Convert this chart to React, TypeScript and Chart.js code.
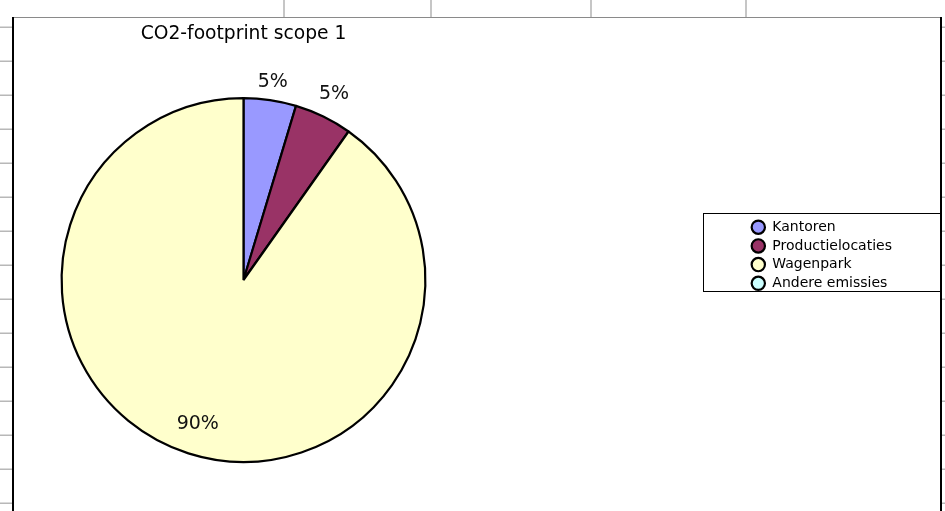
import React, { useEffect, useRef } from "react";
import { Chart, registerables } from "chart.js";

Chart.register(...registerables);

// ---- data ----
const categories = ["Kantoren", "Productielocaties", "Wagenpark", "Andere emissies"];
const emissions = [4.66, 5.14, 90.2, 0];
const sliceColors = ["#9999FF", "#993366", "#FFFFCC", "#CCFFFF"];
const chartTitle = "CO2-footprint scope 1";

// ---- decoration (spreadsheet grid around the embedded chart) ----
const sheetRowLines = [27.3, 61.3, 95.3, 129.3, 163.3, 197.3, 231.3, 265.3, 299.3, 333.3, 367.3, 401.3, 435.3, 469.3, 503.3];
const sheetColLines = [284, 431, 591, 746];

const W = 945;
const H = 511;
const FONT = "'DejaVu Sans', Verdana, sans-serif";

const sheetPlugin = {
  id: "sheetBackground",
  beforeDraw(chart: any) {
    const ctx = chart.ctx as CanvasRenderingContext2D;
    ctx.save();
    ctx.fillStyle = "#ffffff";
    ctx.fillRect(0, 0, W, H);
    ctx.strokeStyle = "#b8b8b8";
    ctx.lineWidth = 1.6;
    for (const y of sheetRowLines) {
      ctx.beginPath();
      ctx.moveTo(0, y);
      ctx.lineTo(12, y);
      ctx.moveTo(942, y);
      ctx.lineTo(W, y);
      ctx.stroke();
    }
    for (const x of sheetColLines) {
      ctx.beginPath();
      ctx.moveTo(x, 0);
      ctx.lineTo(x, 17);
      ctx.stroke();
    }
    ctx.strokeStyle = "#8a8a8a";
    ctx.lineWidth = 1;
    ctx.beginPath();
    ctx.moveTo(12, 17.5);
    ctx.lineTo(942, 17.5);
    ctx.stroke();
    ctx.fillStyle = "#000000";
    ctx.fillRect(12, 17, 2, H - 17);
    ctx.fillRect(940, 17, 2, H - 17);
    ctx.strokeStyle = "#000000";
    ctx.lineWidth = 1;
    ctx.strokeRect(703.5, 213.5, 237, 78);
    ctx.restore();
  },
};

const legendPlacer = {
  id: "legendPlacer",
  afterLayout(chart: any) {
    const lg = chart.legend;
    if (!lg) return;
    lg.left = 746.6;
    lg.top = 215.5;
    lg.right = 940;
    lg.bottom = 310;
    lg.width = lg.right - lg.left;
    lg.height = lg.bottom - lg.top;
  },
};

const pctLabels = {
  id: "pctLabels",
  afterDatasetsDraw(chart: any) {
    const ctx = chart.ctx as CanvasRenderingContext2D;
    const meta = chart.getDatasetMeta(0);
    const values = chart.data.datasets[0].data as number[];
    const total = values.reduce((a, b) => a + b, 0);
    ctx.save();
    ctx.font = `19px ${FONT}`;
    ctx.fillStyle = "#111111";
    ctx.textAlign = "center";
    ctx.textBaseline = "middle";
    meta.data.forEach((arc: any, i: number) => {
      const v = values[i];
      if (!v) return;
      const pct = (v / total) * 100;
      const mid = (arc.startAngle + arc.endAngle) / 2;
      const vert = Math.abs(Math.sin(mid));
      const horiz = Math.abs(Math.cos(mid));
      const r = pct < 10 ? arc.outerRadius + 5 + 10 * vert + 24 * horiz : arc.outerRadius * 0.83;
      const x = arc.x + Math.cos(mid) * r;
      const y = arc.y + Math.sin(mid) * r;
      ctx.fillText(`${Math.round(pct)}%`, x, y);
    });
    ctx.restore();
  },
};

export default function App() {
  const ref = useRef<HTMLCanvasElement | null>(null);

  useEffect(() => {
    if (!ref.current) return;
    const chart = new Chart(ref.current, {
      type: "pie",
      data: {
        labels: categories,
        datasets: [
          {
            data: emissions,
            backgroundColor: sliceColors,
            borderColor: "#000000",
            borderWidth: 2.2,
          },
        ],
      },
      options: {
        animation: false,
        responsive: false,
        events: [],
        layout: { padding: { left: 43.5, right: 401.5, top: 0, bottom: 48 } },
        plugins: {
          title: {
            display: true,
            text: chartTitle,
            fullSize: false,
            color: "#000000",
            font: { family: FONT, size: 18.7, weight: "normal", lineHeight: 1.2 },
            padding: { top: 23, bottom: 51.56 },
          },
          legend: {
            display: true,
            position: "right",
            align: "start",
            maxWidth: 100,
            labels: {
              color: "#000000",
              font: { family: FONT, size: 14 },
              usePointStyle: true,
              pointStyle: "circle",
              boxWidth: 14,
              boxHeight: 9.4,
              padding: 4.7,
            },
          },
          tooltip: { enabled: false },
        },
      },
      plugins: [sheetPlugin, legendPlacer, pctLabels],
    } as any);
    return () => chart.destroy();
  }, []);

  return (
    <div style={{ position: "absolute", left: 0, top: 0, width: W, height: H }}>
      <canvas ref={ref} width={W} height={H} style={{ display: "block" }} />
    </div>
  );
}
